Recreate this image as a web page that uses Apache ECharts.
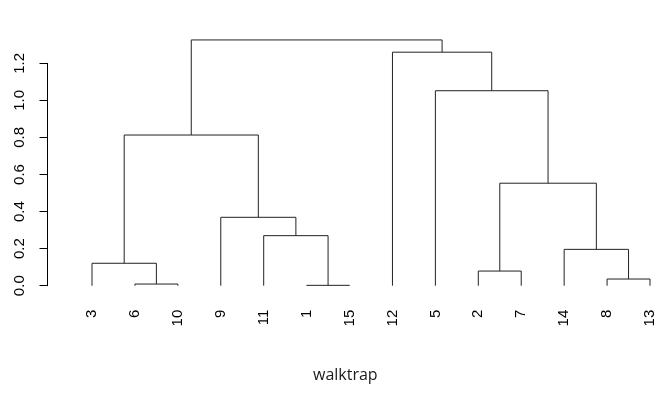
<!DOCTYPE html>
<html>
<head>
<meta charset="utf-8">
<script src="https://cdn.jsdelivr.net/npm/echarts@6/dist/echarts.min.js"></script>
<style>html,body{margin:0;padding:0;background:#fff}#c{width:672px;height:396px}</style>
</head>
<body>
<div id="c"></div>
<script>
// Leaf order (left to right) as drawn
var leafLabels = ['3','6','10','9','11','1','15','12','5','2','7','14','8','13'];
// Merge steps (hclust style): negative = leaf label, positive = earlier merge step
var mergeLeft  = [-6, -1, -8, -2, -3, -14, -11, -9, 4, 5, -5, -12, 10];
var mergeRight = [-10, -15, -13, -7, 1, 3, 2, 7, 6, 8, 9, 11, 12];
var mergeHeight = [0.009, 0.002, 0.036, 0.079, 0.121, 0.196, 0.270, 0.369, 0.553, 0.813, 1.052, 1.260, 1.326];
var yTicks = [0, 0.2, 0.4, 0.6, 0.8, 1.0, 1.2];
var titleText = 'walktrap';

// Build segments
var nodePos = [];
function pos(ref) {
  if (ref < 0) {
    var idx = leafLabels.indexOf(String(-ref));
    return {x: idx + 1, h: 0};
  }
  return nodePos[ref - 1];
}
var segs = [];
for (var i = 0; i < mergeHeight.length; i++) {
  var a = pos(mergeLeft[i]), b = pos(mergeRight[i]), h = mergeHeight[i];
  segs.push([a.x, a.h, a.x, h]);
  segs.push([a.x, h, b.x, h]);
  segs.push([b.x, b.h, b.x, h]);
  nodePos.push({x: (a.x + b.x) / 2, h: h});
}

var chart = echarts.init(document.getElementById('c'), null, {renderer: 'canvas'});
chart.setOption({
  animation: false,
  backgroundColor: '#fff',
  title: {
    text: titleText,
    left: 308, top: 362,
    textStyle: {fontFamily: 'Open Sans', fontSize: 16, fontWeight: 'normal', color: '#1a1a1a'}
  },
  grid: {left: 92, right: 22, top: 63.3, bottom: 110.3, containLabel: false},
  xAxis: {
    type: 'value', min: 1, max: leafLabels.length, interval: 1,
    axisLine: {show: false}, axisTick: {show: false}, splitLine: {show: false},
    axisLabel: {
      rotate: 90, margin: 24, fontFamily: 'Liberation Sans', fontSize: 15, color: '#000',
      showMinLabel: true, showMaxLabel: true,
      formatter: function (v) { return leafLabels[Math.round(v) - 1] || ''; }
    }
  },
  yAxis: {
    type: 'value', min: yTicks[0], max: yTicks[yTicks.length - 1], interval: 0.2,
    offset: 44.5,
    axisLine: {show: true, lineStyle: {color: '#000', width: 1}},
    axisTick: {show: true, length: 8, lineStyle: {color: '#000'}},
    splitLine: {show: false},
    axisLabel: {
      rotate: 90, margin: 20, fontFamily: 'Liberation Sans', fontSize: 15, color: '#000',
      formatter: function (v) { return v.toFixed(1); }
    }
  },
  series: [{
    type: 'custom',
    clip: false,
    data: segs,
    renderItem: function (params, api) {
      var p1 = api.coord([api.value(0), api.value(1)]);
      var p2 = api.coord([api.value(2), api.value(3)]);
      return {
        type: 'line',
        shape: {x1: p1[0], y1: p1[1], x2: p2[0], y2: p2[1]},
        style: {stroke: '#222', lineWidth: 1}
      };
    },
    encode: {x: [0, 2], y: [1, 3]}
  }]
});
</script>
</body>
</html>
